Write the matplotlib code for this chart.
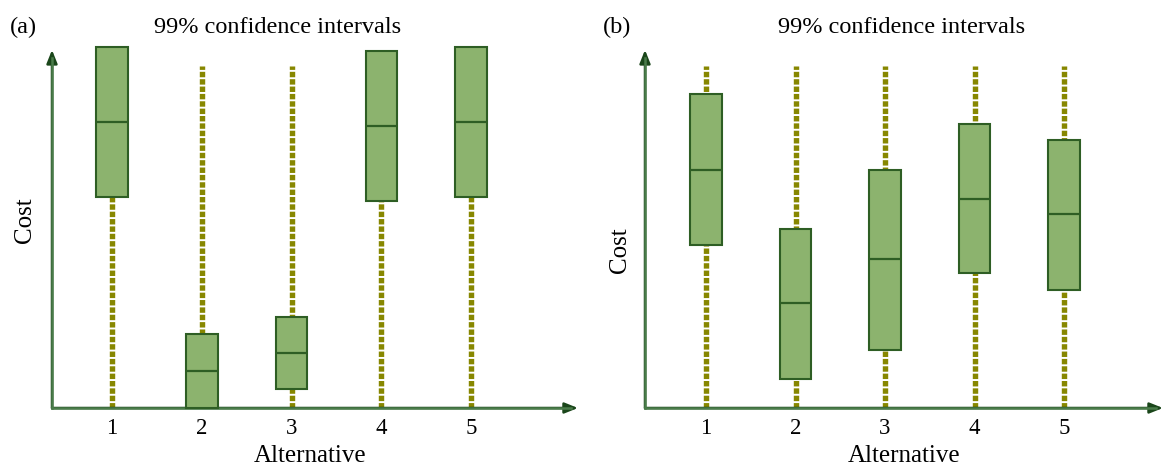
import matplotlib
matplotlib.use("Agg")
import matplotlib.pyplot as plt
import numpy as np

plt.rcParams['font.family'] = ['Liberation Serif', 'DejaVu Serif']
plt.rcParams['lines.scale_dashes'] = False

# ---- data ----
alternatives = [1, 2, 3, 4, 5]
tick_labels = ["1", "2", "3", "4", "5"]
whisker_top = [100, 100, 100, 100, 100]
whisker_bottom = [0, 0, 0, 0, 0]

a_lower = [61.7, 0.0, 5.6, 60.5, 61.7]
a_median = [83.6, 10.8, 16.1, 82.5, 83.6]
a_upper = [105.6, 21.6, 26.6, 104.4, 105.6]

b_lower = [47.7, 8.5, 17.0, 39.5, 34.5]
b_median = [69.6, 30.7, 43.6, 61.1, 56.7]
b_upper = [91.8, 52.3, 69.6, 83.0, 78.4]

title = "99% confidence intervals"
panel_labels = ["(a)", "(b)"]
xlabel = "Alternative"
ylabel = "Cost"

# ---- style ----
W, H = 1166, 468
FILL = "#8cb36e"
EDGE = "#2e5e24"
DOT = "#878700"
AXC = "#4a7c4a"
HEAD = "#1a461a"
FS = 17.5

fig = plt.figure(figsize=(W / 100, H / 100), dpi=100)


def px_rect(x0, x1, ytop, ybot):
    return [x0 / W, 1 - ybot / H, (x1 - x0) / W, (ybot - ytop) / H]


def panel(rect, xlim, lower, median, upper, ylab_pos, xlab_pos, yarrow):
    ax = fig.add_axes(rect)
    ax.set_xlim(*xlim)
    ax.set_ylim(0, 107.6)
    for s in ax.spines.values():
        s.set_visible(False)
    ax.set_yticks([])
    ax.set_xticks(alternatives, tick_labels, fontsize=FS - 1)
    ax.tick_params(axis='x', length=0, pad=7)
    x = np.array(alternatives, dtype=float)
    lo = np.array(lower)
    md = np.array(median)
    up = np.array(upper)
    ax.vlines(x, whisker_bottom, whisker_top, colors=DOT, linewidth=3.9,
              linestyles=[(0, (3.9, 1.4))], zorder=1)
    ax.bar(x, up - lo, bottom=lo, width=0.35, color=FILL, edgecolor=EDGE,
           linewidth=1.5, zorder=3, clip_on=False)
    ax.hlines(md, x - 0.175, x + 0.175, colors=EDGE, linewidth=1.6, zorder=4)
    # axes with arrows
    ap = dict(arrowstyle='-|>,head_length=0.8,head_width=0.32',
              color=AXC, fc=HEAD, ec=HEAD, lw=1.8, shrinkA=0, shrinkB=0)
    ax.annotate('', xy=(xlim[1], 0), xytext=(xlim[0], 0),
                arrowprops=ap, annotation_clip=False, zorder=2)
    ax.annotate('', xy=(xlim[0], yarrow), xytext=(xlim[0], 0),
                arrowprops=ap, annotation_clip=False, zorder=2)
    ax.plot([xlim[0], xlim[1] - 0.08], [0, 0], color=AXC, lw=1.8, zorder=2, clip_on=False)
    ax.plot([xlim[0], xlim[0]], [0, yarrow - 2.5], color=AXC, lw=1.8, zorder=2, clip_on=False)
    ax.set_xlabel(xlabel, fontsize=FS + 0.5)
    ax.xaxis.set_label_coords(*xlab_pos)
    ax.set_ylabel(ylabel, fontsize=FS + 0.5, va='center', ha='center')
    ax.yaxis.set_label_coords(*ylab_pos)
    return ax


# left panel: axis from x=52 to 578 px, y 408 -> 40 px
axa = panel(px_rect(52, 578, 40, 408), (0.3315, 6.19), a_lower, a_median, a_upper,
            ((25 - 52) / 526, (408 - 220) / 368), ((310 - 52) / 526, (408 - 445) / 368), 104.7)
axb = panel(px_rect(645, 1163, 40, 408), (0.3184, 6.106), b_lower, b_median, b_upper,
            ((620 - 645) / 518, (408 - 250) / 368), ((904 - 645) / 518, (408 - 445) / 368), 104.7)

fig.text(278 / W, 1 - 33 / H, title, fontsize=FS, ha='center', va='baseline')
fig.text(902 / W, 1 - 33 / H, title, fontsize=FS, ha='center', va='baseline')
fig.text(10 / W, 1 - 33 / H, panel_labels[0], fontsize=FS, ha='left', va='baseline')
fig.text(603 / W, 1 - 33 / H, panel_labels[1], fontsize=FS, ha='left', va='baseline')

fig.savefig("out.png", dpi=100)
